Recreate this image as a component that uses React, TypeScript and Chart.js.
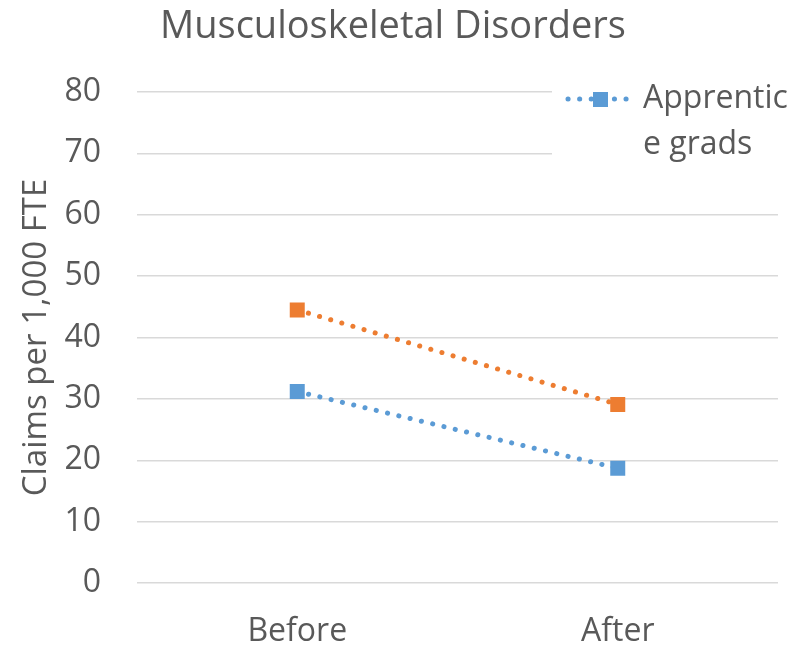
import React, { useEffect, useRef } from "react";
import { Chart, registerables } from "chart.js";

Chart.register(...registerables);

const categories = ["Before", "After"];
const apprenticeGrads = [31.2, 18.7];
const otherSeries = [44.5, 29.1];
const yTickValues = [0, 10, 20, 30, 40, 50, 60, 70, 80];
const chartTitle = "Musculoskeletal Disorders";
const yAxisTitle = "Claims per 1,000 FTE";
const legendLines = ["Apprentic", "e grads"];

const FONT = "'Open Sans', sans-serif";
const TEXT = "#595959";
const GRID = "#d9d9d9";
const BLUE = "#5B9BD5";
const ORANGE = "#ED7D31";

const overlay = {
  id: "overlay",
  afterDraw(chart: any) {
    const ctx = chart.ctx as CanvasRenderingContext2D;
    ctx.save();
    ctx.fillStyle = TEXT;
    ctx.font = `38px ${FONT}`;
    ctx.textAlign = "center";
    ctx.textBaseline = "middle";
    ctx.fillText(chartTitle, 393, 27);

    // legend
    ctx.fillStyle = "#ffffff";
    ctx.fillRect(552, 76, 260, 96);
    ctx.strokeStyle = BLUE;
    ctx.lineWidth = 5;
    ctx.lineCap = "round";
    ctx.setLineDash([0.1, 11.5]);
    ctx.beginPath();
    ctx.moveTo(568, 99);
    ctx.lineTo(634, 99);
    ctx.stroke();
    ctx.setLineDash([]);
    ctx.fillStyle = BLUE;
    ctx.fillRect(593, 92, 15, 15);
    ctx.fillStyle = TEXT;
    ctx.font = `32px ${FONT}`;
    ctx.textAlign = "left";
    ctx.fillText(legendLines[0], 643, 99);
    ctx.fillText(legendLines[1], 643, 145);
    ctx.restore();
  },
};

export default function App() {
  const ref = useRef<HTMLCanvasElement>(null);
  useEffect(() => {
    if (!ref.current) return;
    const lineDs = (label: string, data: number[], color: string) => ({
      label,
      data,
      borderColor: color,
      backgroundColor: color,
      borderWidth: 5,
      borderCapStyle: "round" as const,
      borderDash: [0.1, 11.5],
      pointStyle: "rect" as const,
      pointRadius: 10.6,
      pointBorderWidth: 0,
      pointHoverRadius: 10.6,
      fill: false,
      tension: 0,
    });
    const chart = new Chart(ref.current, {
      type: "line",
      data: {
        labels: categories,
        datasets: [
          lineDs("Apprentice grads", apprenticeGrads, BLUE),
          lineDs("Other", otherSeries, ORANGE),
        ],
      },
      options: {
        animation: false,
        responsive: false,
        maintainAspectRatio: false,
        layout: { padding: { top: 92, right: 34, bottom: 0, left: 0 } },
        plugins: {
          legend: { display: false },
          title: { display: false },
          tooltip: { enabled: false },
        },
        scales: {
          x: {
            offset: true,
            grid: { display: false, drawTicks: false },
            border: { display: false },
            ticks: {
              color: TEXT,
              font: { family: FONT, size: 32 },
              padding: 30,
            },
            afterFit: (s: any) => {
              s.height = 64;
            },
          },
          y: {
            min: 0,
            max: 80,
            afterBuildTicks: (s: any) => {
              s.ticks = yTickValues.map((v) => ({ value: v }));
            },
            grid: { color: GRID, lineWidth: 1.5, drawTicks: false },
            border: { display: false },
            ticks: {
              color: TEXT,
              font: { family: FONT, size: 32 },
              padding: 36,
            },
            title: {
              display: true,
              text: yAxisTitle,
              color: TEXT,
              font: { family: FONT, size: 33, weight: "normal" },
              padding: { top: 17, bottom: 0 },
            },
            afterFit: (s: any) => {
              s.width = 137;
            },
          },
        },
      },
      plugins: [overlay],
    });
    return () => chart.destroy();
  }, []);
  return (
    <div style={{ position: "fixed", left: 0, top: 0, width: 812, height: 647, background: "#fff" }}>
      <canvas ref={ref} width={812} height={647} style={{ width: 812, height: 647 }} />
    </div>
  );
}
